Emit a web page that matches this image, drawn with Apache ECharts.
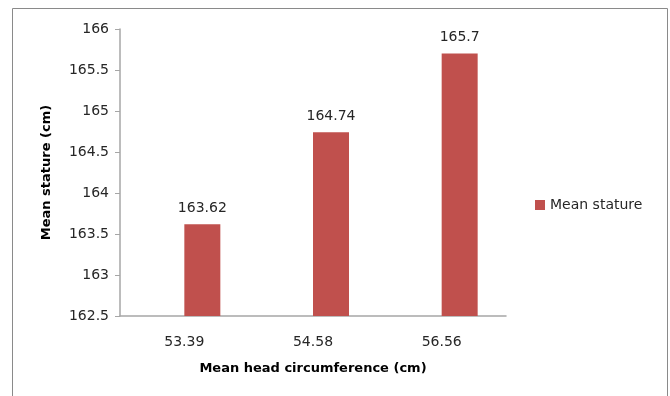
<!DOCTYPE html>
<html>
<head>
<meta charset="utf-8">
<script src="https://cdn.jsdelivr.net/npm/echarts@6/dist/echarts.min.js"></script>
<style>html,body{margin:0;padding:0;background:#fff;}#c{width:670px;height:396px;}</style>
</head>
<body>
<div id="c"></div>
<script>
const categories = ['53.39', '54.58', '56.56'];
const meanStature = [163.62, 164.74, 165.7];
const emptySlot = [null, null, null];
const yMin = 162.5, yMax = 166, yStep = 0.5;
const xTitle = 'Mean head circumference (cm)';
const yTitle = 'Mean stature (cm)';
const seriesName = 'Mean stature';

const font = 'DejaVu Sans';
const chart = echarts.init(document.getElementById('c'), null, {renderer: 'canvas'});
chart.setOption({
  animation: false,
  backgroundColor: '#fff',
  graphic: [{
    type: 'rect', shape: {x: 12.5, y: 8.5, width: 655, height: 400},
    style: {fill: 'none', stroke: '#8a8a8a', lineWidth: 1}, silent: true
  }],
  grid: {left: 120, top: 29, width: 386, height: 287, containLabel: false},
  legend: {
    data: [seriesName], orient: 'vertical', left: 530, top: 193,
    itemWidth: 10, itemHeight: 10, itemGap: 5, icon: 'rect',
    textStyle: {fontFamily: font, fontSize: 14, color: '#262626'}
  },
  xAxis: {
    type: 'category', data: categories,
    axisLine: {lineStyle: {color: '#a6a6a6', width: 1.5}},
    axisTick: {show: false},
    axisLabel: {fontFamily: font, fontSize: 14, color: '#262626', margin: 19},
    name: xTitle, nameLocation: 'middle', nameGap: 46,
    nameTextStyle: {fontFamily: font, fontSize: 13, fontWeight: 'bold', color: '#000'}
  },
  yAxis: {
    type: 'value', min: yMin, max: yMax, interval: yStep,
    splitLine: {show: false},
    axisLine: {show: true, lineStyle: {color: '#a6a6a6', width: 1.5}},
    axisTick: {show: true, length: 5, lineStyle: {color: '#a6a6a6'}},
    axisLabel: {fontFamily: font, fontSize: 14, color: '#262626', margin: 11},
    name: yTitle, nameLocation: 'middle', nameGap: 67, nameRotate: 90,
    nameTextStyle: {fontFamily: font, fontSize: 13, fontWeight: 'bold', color: '#000'}
  },
  series: [
    {name: 'hidden', type: 'bar', data: emptySlot, barWidth: 36, barGap: '0%', silent: true},
    {
      name: seriesName, type: 'bar', data: meanStature, barWidth: 36, barGap: '0%',
      itemStyle: {color: '#C0504D'},
      label: {show: true, position: 'top', distance: 9, fontFamily: font, fontSize: 14, color: '#262626'}
    }
  ]
});
</script>
</body>
</html>
